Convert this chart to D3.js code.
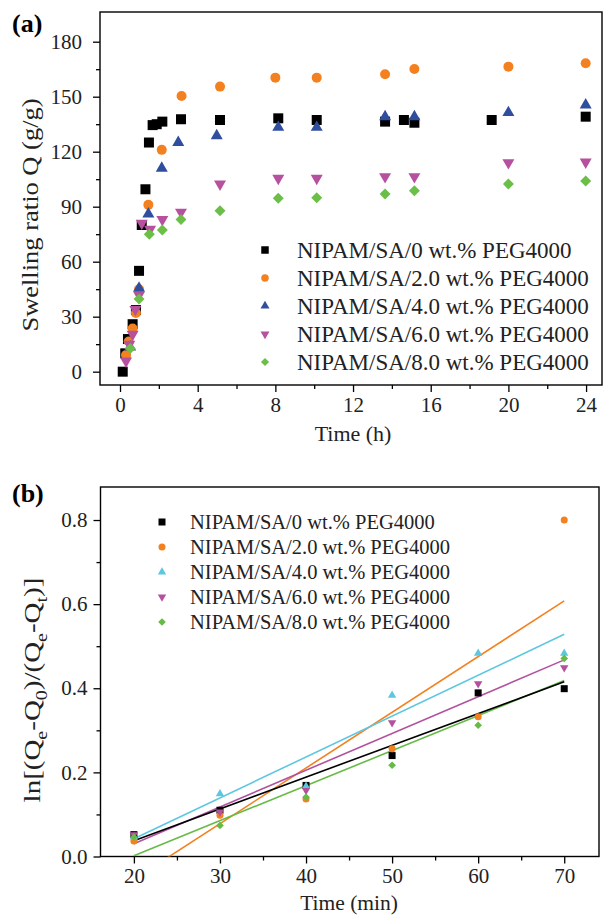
<!DOCTYPE html>
<html>
<head>
<meta charset="utf-8">
<script src="https://cdn.jsdelivr.net/npm/d3@7"></script>
<style>
  body { margin: 0; background: #fff; }
  svg { display: block; font-family: "Liberation Serif", "Times New Roman", serif; }
</style>
</head>
<body>
<div id="chart"></div>
<script>
  // Nombres de las series (comunes a ambos paneles)
  const seriesNames = [
    'NIPAM/SA/0 wt.% PEG4000',
    'NIPAM/SA/2.0 wt.% PEG4000',
    'NIPAM/SA/4.0 wt.% PEG4000',
    'NIPAM/SA/6.0 wt.% PEG4000',
    'NIPAM/SA/8.0 wt.% PEG4000'
  ]

  // Panel (a): tiempo (h) y razón de hinchamiento Q (g/g)
  const timeA0 = [0.14, 0.27, 0.41, 0.65, 0.82, 0.98, 1.12, 1.31, 1.49, 1.68, 1.89, 2.18, 3.14, 5.15, 8.15, 10.13, 13.65, 14.62, 15.16, 19.14, 23.98]
  const swellA0 = [0, 10, 17.8, 25.9, 33.6, 55, 80, 99.5, 125, 134.5, 135, 136.4, 137.7, 137.3, 138.2, 137.3, 136.4, 137.3, 135.8, 137.3, 139.1]
  const timeA2 = [0.31, 0.45, 0.65, 0.82, 0.98, 1.46, 2.15, 3.17, 5.15, 8.0, 10.13, 13.65, 15.16, 20.0, 23.98]
  const swellA2 = [9.1, 16.5, 23.5, 32, 45, 91, 121, 150.4, 155.5, 160.4, 160.4, 162.2, 165.1, 166.4, 168.2]
  const timeA4 = [0.52, 0.98, 1.46, 2.15, 3.0, 4.98, 8.15, 10.13, 13.65, 15.16, 20.0, 23.98]
  const swellA4 = [13.5, 45.5, 86, 111, 125, 128.7, 133.3, 133.3, 139.1, 139.1, 141.3, 145.5]
  const timeA6 = [0.31, 0.48, 0.65, 0.79, 0.98, 1.12, 1.55, 2.18, 3.14, 5.15, 8.15, 10.13, 13.65, 15.16, 20.0, 23.98]
  const swellA6 = [5.8, 15, 20.4, 34, 41.8, 81, 77.7, 83, 87, 102.4, 105.5, 105.5, 106.4, 106.4, 114, 114.4]
  const timeA8 = [0.53, 0.98, 1.51, 2.18, 3.14, 5.15, 8.15, 10.13, 13.65, 15.16, 20.0, 23.98]
  const swellA8 = [12.7, 39.6, 75, 77.3, 83, 87.8, 94.6, 94.9, 96.9, 98.7, 102.4, 104]

  // Panel (b): tiempo (min) y ln[(Qe-Q0)/(Qe-Qt)]
  const timeB = [20, 30, 40, 50, 60, 70]
  const lnB0 = [0.052, 0.11, 0.169, 0.24, 0.389, 0.399]
  const lnB2 = [0.037, 0.098, 0.137, 0.256, 0.332, 0.8]
  const lnB4 = [0.046, 0.149, 0.167, 0.383, 0.483, 0.483]
  const lnB6 = [0.052, 0.106, 0.157, 0.318, 0.411, 0.449]
  const lnB8 = [0.046, 0.074, 0.141, 0.217, 0.312, 0.471]

  // Ticks
  const ticksXA = [0, 4, 8, 12, 16, 20, 24]
  const ticksYA = [0, 30, 60, 90, 120, 150, 180]
  const ticksXB = [20, 30, 40, 50, 60, 70]
  const ticksYB = [0, 0.2, 0.4, 0.6, 0.8]

  const colorsA = ['#000000', '#F4811F', '#2F4E9E', '#B5519E', '#6BBE47']
  const colorsB = ['#000000', '#F4811F', '#5DC7E0', '#B3519F', '#66BB46']
  const shapes = ['square', 'circle', 'up', 'down', 'diamond']

  const seriesA = [
    [timeA0, swellA0], [timeA2, swellA2], [timeA4, swellA4], [timeA6, swellA6], [timeA8, swellA8]
  ].map(([t, q], i) => ({ name: seriesNames[i], points: t.map((d, j) => [d, q[j]]) }))

  const seriesB = [lnB0, lnB2, lnB4, lnB6, lnB8]
    .map((v, i) => ({ name: seriesNames[i], points: timeB.map((d, j) => [d, v[j]]) }))

  const W = 611, H = 920

  const svg = d3.select('#chart').append('svg')
    .attr('width', W).attr('height', H)

  // Dibuja un marcador según la forma y un tamaño base (lado aprox. en px)
  const drawMarker = (g, shape, s, color) => {
    let path, rot = 0
    if (shape === 'square') path = d3.symbol(d3.symbolSquare, s * s)()
    else if (shape === 'circle') path = d3.symbol(d3.symbolCircle, Math.PI * s * s / 4)()
    else if (shape === 'up' || shape === 'down') {
      const side = s * 1.2
      path = d3.symbol(d3.symbolTriangle, Math.sqrt(3) / 4 * side * side)()
      if (shape === 'down') rot = 180
    } else {
      path = d3.symbol(d3.symbolSquare, s * s * 0.6)()
      rot = 45
    }
    return g.append('path')
      .attr('d', path)
      .attr('transform', `rotate(${rot})`)
      .attr('fill', color)
  }

  // Dibuja el marco y los ejes de un panel
  const drawFrame = (box, x, y, ticksX, minorX, ticksY, minorY, fmtY, padY) => {
    const g = svg.append('g')
    g.append('rect')
      .attr('x', box.left).attr('y', box.top)
      .attr('width', box.right - box.left).attr('height', box.bottom - box.top)
      .attr('fill', 'none').attr('stroke', '#000').attr('stroke-width', 1.4)

    const xAxis = g.append('g').attr('transform', `translate(0,${box.bottom})`)
      .call(d3.axisBottom(x).tickValues(ticksX).tickSize(7).tickSizeOuter(0).tickPadding(5))
    const xMinor = g.append('g').attr('transform', `translate(0,${box.bottom})`)
      .call(d3.axisBottom(x).tickValues(minorX).tickSize(4).tickSizeOuter(0).tickFormat(''))
    const yAxis = g.append('g').attr('transform', `translate(${box.left},0)`)
      .call(d3.axisLeft(y).tickValues(ticksY).tickSize(7).tickSizeOuter(0).tickPadding(padY).tickFormat(fmtY))
    const yMinor = g.append('g').attr('transform', `translate(${box.left},0)`)
      .call(d3.axisLeft(y).tickValues(minorY).tickSize(4).tickSizeOuter(0).tickFormat(''))

    ;[xAxis, xMinor, yAxis, yMinor].forEach(a => {
      a.select('.domain').remove()
      a.selectAll('line').attr('stroke-width', 1.3)
      a.selectAll('text')
        .attr('font-family', '"Liberation Serif", serif')
        .attr('font-size', 21)
        .attr('fill', '#222')
    })
    return g
  }

  // ---------- Panel (a) ----------
  const boxA = { left: 100, right: 602, top: 12, bottom: 385 }
  const xA = d3.scaleLinear().domain([-1.03, 24.82]).range([boxA.left, boxA.right])
  const yA = d3.scaleLinear().domain([-7.27, 196.2]).range([boxA.bottom, boxA.top])

  drawFrame(boxA, xA, yA, ticksXA, ticksXA.slice(0, -1).map(d => d + 2),
    ticksYA, ticksYA.slice(0, -1).map(d => d + 15), d3.format('d'), 11)

  seriesA.forEach((s, i) => {
    svg.append('g').selectAll('g')
      .data(s.points)
      .join('g')
      .attr('transform', d => `translate(${xA(d[0])},${yA(d[1])})`)
      .each(function () { drawMarker(d3.select(this), shapes[i], 10, colorsA[i]) })
  })

  const legA = svg.append('g')
  seriesNames.forEach((name, i) => {
    const yy = 250 + i * 28
    const m = legA.append('g').attr('transform', `translate(265,${yy})`)
    drawMarker(m, shapes[i], 7.5, colorsA[i])
    legA.append('text')
      .attr('x', 297).attr('y', yy).attr('dy', '0.35em')
      .attr('font-size', 23).attr('fill', '#222')
      .text(name)
  })

  svg.append('text').attr('x', 12).attr('y', 32)
    .attr('font-size', 26).attr('font-weight', 'bold')
    .text('(a)')

  svg.append('text')
    .attr('transform', 'translate(38,215) rotate(-90) scale(1,0.85)')
    .attr('text-anchor', 'middle')
    .attr('font-size', 26.5).attr('fill', '#222')
    .text('Swelling ratio Q (g/g)')

  svg.append('text')
    .attr('x', xA(12)).attr('y', 441)
    .attr('text-anchor', 'middle')
    .attr('font-size', 22).attr('fill', '#222')
    .text('Time (h)')

  // ---------- Panel (b) ----------
  const boxB = { left: 100.5, right: 599, top: 487, bottom: 856.5 }
  const xB = d3.scaleLinear().domain([16.12, 74.04]).range([boxB.left, boxB.right])
  const yB = d3.scaleLinear().domain([0, 0.8785]).range([boxB.bottom, boxB.top])

  drawFrame(boxB, xB, yB, ticksXB, ticksXB.slice(0, -1).map(d => d + 5),
    ticksYB, ticksYB.map(d => d + 0.1).filter(d => d < 0.85), d3.format('.1f'), 6)

  svg.append('clipPath').attr('id', 'clipB')
    .append('rect')
    .attr('x', boxB.left).attr('y', boxB.top)
    .attr('width', boxB.right - boxB.left).attr('height', boxB.bottom - boxB.top)

  // Ajuste lineal por mínimos cuadrados
  const fit = pts => {
    const mx = d3.mean(pts, d => d[0]), my = d3.mean(pts, d => d[1])
    const sxy = d3.sum(pts, d => (d[0] - mx) * (d[1] - my))
    const sxx = d3.sum(pts, d => (d[0] - mx) ** 2)
    const b = sxy / sxx
    return x => my + b * (x - mx)
  }

  const lineGen = d3.line().x(d => xB(d[0])).y(d => yB(d[1]))
  const lineOrder = [1, 2, 3, 4, 0]
  lineOrder.forEach(i => {
    const f = fit(seriesB[i].points)
    const ends = d3.extent(timeB).map(t => [t, f(t)])
    svg.append('path')
      .attr('clip-path', 'url(#clipB)')
      .attr('d', lineGen(ends))
      .attr('fill', 'none')
      .attr('stroke', colorsB[i])
      .attr('stroke-width', 1.6)
  })

  seriesB.forEach((s, i) => {
    svg.append('g').selectAll('g')
      .data(s.points)
      .join('g')
      .attr('transform', d => `translate(${xB(d[0])},${yB(d[1])})`)
      .each(function () { drawMarker(d3.select(this), shapes[i], 7, colorsB[i]) })
  })

  const legB = svg.append('g')
  seriesNames.forEach((name, i) => {
    const yy = 522 + i * 25
    const m = legB.append('g').attr('transform', `translate(162,${yy})`)
    drawMarker(m, shapes[i], 7, colorsB[i])
    legB.append('text')
      .attr('x', 190).attr('y', yy).attr('dy', '0.35em')
      .attr('font-size', 20.5).attr('fill', '#222')
      .text(name)
  })

  svg.append('text').attr('x', 12).attr('y', 502)
    .attr('font-size', 26).attr('font-weight', 'bold')
    .text('(b)')

  // Etiqueta con subíndices
  const yLabB = svg.append('text')
    .attr('transform', 'translate(40,690) rotate(-90) scale(1,0.82)')
    .attr('text-anchor', 'middle')
    .attr('font-size', 29).attr('fill', '#222')
  const parts = [['ln[(Q', 0], ['e', 1], ['-Q', 0], ['0', 1], [')/(Q', 0], ['e', 1], ['-Q', 0], ['t', 1], [')]', 0]]
  let prevSub = 0
  parts.forEach(([t, sub]) => {
    yLabB.append('tspan')
      .attr('dy', sub === prevSub ? 0 : (sub ? 8 : -8))
      .attr('font-size', sub ? 20 : 29)
      .text(t)
    prevSub = sub
  })

  svg.append('text')
    .attr('x', xB(45)).attr('y', 910)
    .attr('text-anchor', 'middle')
    .attr('font-size', 21.5).attr('fill', '#222')
    .text('Time (min)')
</script>
</body>
</html>
